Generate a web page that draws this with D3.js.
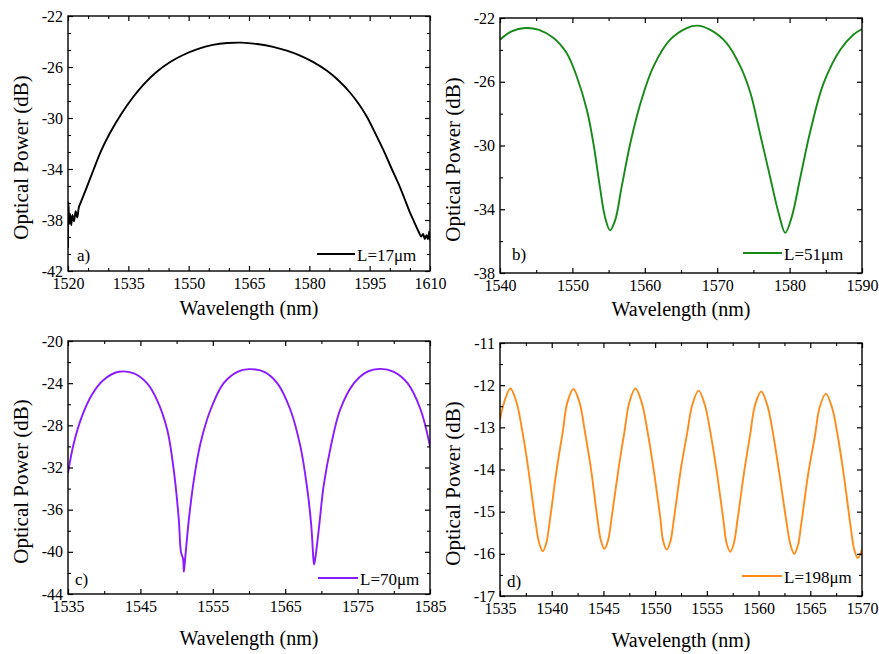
<!DOCTYPE html>
<html>
<head>
<meta charset="utf-8">
<script src="https://cdn.jsdelivr.net/npm/d3@7"></script>
<style>
  html, body { margin: 0; padding: 0; background: #fff; }
  svg { display: block; font-family: 'Liberation Serif', 'Times New Roman', serif; }
</style>
</head>
<body>
<svg id="chart" width="879" height="654"></svg>
<script>
// ---- data ----
// a) L=17um
const wlA = [1520.0, 1520.1, 1520.3, 1520.5, 1520.8, 1521.1, 1521.5, 1521.9, 1522.3, 1522.7, 1523.2,
  1524.7, 1526.3, 1528.2, 1530.4, 1533.2, 1536.2, 1539.0, 1542.0, 1545.2, 1548.6, 1552.2, 1556.0,
  1559.6, 1563.2, 1567.0, 1571.0, 1574.4, 1577.7, 1581.0, 1584.4, 1587.4, 1590.1,
  1592.3, 1594.3, 1596.4, 1598.4, 1600.5, 1602.5, 1604.0, 1605.0, 1606.0, 1606.7, 1607.3,
  1607.8, 1608.3, 1608.7, 1609.1, 1609.5, 1609.8, 1610.0];
const pwA = [-40.2, -36.6, -38.3, -37.5, -38.4, -37.6, -38.1, -37.3, -37.8, -37.0, -36.6,
  -35.4, -34.1, -32.6, -31.2, -29.7, -28.35, -27.3, -26.4, -25.65, -25.06, -24.6, -24.27,
  -24.12, -24.09, -24.2, -24.42, -24.72, -25.1, -25.62, -26.3, -27.1, -28.0,
  -28.9, -29.9, -31.2, -32.5, -34.0, -35.4, -36.6, -37.4, -38.1, -38.6, -39.0,
  -39.3, -39.1, -39.5, -39.2, -39.5, -38.9, -39.6];

// b) L=51um
const wlB = [1540.0, 1541.6, 1543.5, 1545.3, 1547.4, 1549.2, 1550.6, 1552.0, 1552.9, 1553.8, 1554.5,
  1555.2, 1555.9, 1556.8, 1558.0, 1559.4, 1561.2, 1563.5, 1565.8, 1567.2, 1569.0, 1571.3,
  1573.2, 1574.6, 1575.9, 1577.3, 1578.5, 1579.4, 1580.3, 1581.5, 1582.9, 1584.7, 1587.0, 1588.8, 1590.0];
const pwB = [-23.36, -22.84, -22.63, -22.73, -23.26, -24.2, -25.67, -27.77, -29.86, -32.6, -34.48,
  -35.32, -34.7, -32.6, -29.86, -27.35, -25.04, -23.36, -22.63, -22.48, -22.73, -23.57,
  -25.04, -26.72, -29.23, -31.96, -34.27, -35.48, -34.48, -31.96, -29.03, -26.09, -23.99, -23.05, -22.69];

// c) L=70um
const wlC = [1535.0, 1535.8, 1536.9, 1538.3, 1539.9, 1542.0, 1544.1, 1545.9, 1547.3, 1548.7, 1549.6,
  1550.3, 1550.6, 1550.9, 1551.0, 1551.2, 1551.7, 1552.4, 1553.3, 1554.7, 1556.5, 1558.4,
  1560.0, 1562.1, 1563.9, 1565.7, 1567.1, 1568.0, 1568.6, 1568.9, 1569.0, 1569.2, 1569.7,
  1570.3, 1571.3, 1572.6, 1574.5, 1576.3, 1578.2, 1580.0, 1581.9, 1583.7, 1585.0];
const pwC = [-32.5, -29.7, -27.2, -25.1, -23.7, -22.92, -23.08, -24.0, -25.6, -28.4, -32.2,
  -36.9, -40.0, -40.7, -41.9, -40.5, -36.9, -33.1, -29.7, -26.5, -24.0, -22.92,
  -22.67, -22.92, -24.0, -26.5, -30.0, -33.8, -37.5, -40.7, -41.2, -40.4, -37.5,
  -33.8, -30.0, -26.5, -24.0, -22.92, -22.64, -22.92, -24.0, -26.5, -30.0];

// d) L=198um
const wlD = [1535.0, 1535.4, 1536.0, 1536.6, 1537.15, 1537.75, 1538.4, 1538.78, 1539.13, 1539.48, 1539.83, 1540.48, 1541.08, 1541.5,
  1542.1, 1542.7, 1543.2, 1543.8, 1544.4, 1544.75, 1545.1, 1545.45, 1545.8, 1546.45, 1547.05, 1547.5,
  1548.1, 1548.7, 1549.25, 1549.85, 1550.5, 1550.78, 1551.13, 1551.48, 1551.83, 1552.48, 1553.1, 1553.6,
  1554.2, 1554.8, 1555.35, 1555.95, 1556.6, 1556.91, 1557.26, 1557.61, 1557.96, 1558.61, 1559.2, 1559.65,
  1560.25, 1560.85, 1561.4, 1562.0, 1562.7, 1563.1, 1563.45, 1563.8, 1564.15, 1564.8, 1565.45, 1565.9,
  1566.5, 1567.1, 1567.65, 1568.25, 1568.9, 1569.25, 1569.6, 1570.0];
const pwD = [-12.81, -12.41, -12.08, -12.41, -13.08, -14.01, -15.19, -15.74, -15.94, -15.74, -15.19, -14.0, -13.09, -12.42,
  -12.09, -12.42, -13.09, -13.99, -15.13, -15.68, -15.88, -15.68, -15.13, -14.0, -13.08, -12.41,
  -12.08, -12.41, -13.08, -13.99, -15.15, -15.7, -15.9, -15.7, -15.15, -14.0, -13.13, -12.46,
  -12.13, -12.46, -13.13, -14.04, -15.2, -15.75, -15.95, -15.75, -15.2, -14.05, -13.15, -12.48,
  -12.15, -12.48, -13.15, -14.08, -15.25, -15.8, -16.0, -15.8, -15.25, -14.1, -13.2, -12.53,
  -12.2, -12.53, -13.2, -14.15, -15.35, -15.9, -16.1, -15.9];

// tick values
const xTicksA = [1520, 1535, 1550, 1565, 1580, 1595, 1610];
const yTicksA = [-22, -26, -30, -34, -38, -42];
const xTicksB = [1540, 1550, 1560, 1570, 1580, 1590];
const yTicksB = [-22, -26, -30, -34, -38];
const xTicksC = [1535, 1545, 1555, 1565, 1575, 1585];
const yTicksC = [-20, -24, -28, -32, -36, -40, -44];
const xTicksD = [1535, 1540, 1545, 1550, 1555, 1560, 1565, 1570];
const yTicksD = [-11, -12, -13, -14, -15, -16, -17];

const legendLabels = ['L=17\u03bcm', 'L=51\u03bcm', 'L=70\u03bcm', 'L=198\u03bcm'];
const panelTags = ['a)', 'b)', 'c)', 'd)'];

const svg = d3.select('#chart');

function minorTicks(major, parts) {
  const out = [];
  for (let i = 0; i < major.length - 1; i++) {
    const step = (major[i + 1] - major[i]) / parts;
    for (let k = 1; k < parts; k++) out.push(major[i] + step * k);
  }
  return out;
}

function drawPanel(p) {
  const { x0, x1, y0, y1 } = p.frame;
  const x = d3.scaleLinear().domain(d3.extent(p.xTicks)).range([x0, x1]);
  const y = d3.scaleLinear().domain(d3.extent(p.yTicks)).range([y1, y0]);

  const xMinor = minorTicks(p.xTicks, p.xParts);
  const yMinor = minorTicks(p.yTicks, p.yParts);

  const g = svg.append('g');

  // data line
  const clipId = 'clip' + p.tag[0];
  g.append('clipPath').attr('id', clipId)
    .append('rect').attr('x', x0).attr('y', y0 - 2).attr('width', x1 - x0).attr('height', y1 - y0 + 4);
  const pts = p.wl.map((w, i) => [w, p.pw[i]]);
  g.append('path')
    .datum(pts)
    .attr('clip-path', `url(#${clipId})`)
    .attr('fill', 'none')
    .attr('stroke', p.color)
    .attr('stroke-width', 1.9)
    .attr('stroke-linejoin', 'round')
    .attr('d', d3.line().x(d => x(d[0])).y(d => y(d[1])).curve(d3.curveCatmullRom.alpha(0.5)));

  // axes, ticks pointing in
  const axes = [
    [d3.axisBottom, x, y1, 'x', true],
    [d3.axisTop, x, y0, 'x', false],
    [d3.axisLeft, y, x0, 'y', true],
    [d3.axisRight, y, x1, 'y', false]
  ];
  for (const [fn, sc, pos, dir, labels] of axes) {
    const tr = dir === 'x' ? `translate(0,${pos})` : `translate(${pos},0)`;
    const major = dir === 'x' ? p.xTicks : p.yTicks;
    const minor = dir === 'x' ? xMinor : yMinor;
    const ax = g.append('g').attr('transform', tr)
      .call(fn(sc).tickValues(major).tickSize(-5)
        .tickPadding(dir === 'x' ? 7 : 5)
        .tickFormat(labels ? d => String(d) : ''));
    ax.select('.domain').remove();
    ax.selectAll('.tick line').attr('stroke-width', 1.2);
    ax.selectAll('text')
      .attr('font-size', 16)
      .attr('fill', '#000')
      .attr('font-family', "'Liberation Serif', serif");
    const mx = g.append('g').attr('transform', tr)
      .call(fn(sc).tickValues(minor).tickSize(-3).tickFormat(''));
    mx.select('.domain').remove();
    mx.selectAll('.tick line').attr('stroke-width', 1.1);
  }

  // frame
  g.append('rect')
    .attr('x', x0).attr('y', y0).attr('width', x1 - x0).attr('height', y1 - y0)
    .attr('fill', 'none').attr('stroke', '#000').attr('stroke-width', 1.4);

  // axis titles
  g.append('text')
    .attr('x', (x0 + x1) / 2).attr('y', p.xTitleY)
    .attr('text-anchor', 'middle').attr('font-size', 20)
    .text('Wavelength (nm)');
  g.append('text')
    .attr('transform', `translate(${x0 - 47},${(y0 + y1) / 2 + 14}) rotate(-90)`)
    .attr('text-anchor', 'middle').attr('dy', '0.35em').attr('font-size', 21)
    .text('Optical Power (dB)');

  // panel tag
  g.append('text')
    .attr('x', x0 + p.tagDx).attr('y', y1 - p.tagDy)
    .attr('font-size', 17).text(p.tag);

  // legend
  g.append('line')
    .attr('x1', p.legend[0]).attr('x2', p.legend[1])
    .attr('y1', p.legend[2]).attr('y2', p.legend[2])
    .attr('stroke', p.color).attr('stroke-width', 1.9);
  g.append('text')
    .attr('x', p.legend[1] + 2).attr('y', p.legend[2] + 7)
    .attr('font-size', 17).text(p.label);
}

const panels = [
  { frame: { x0: 68, x1: 430, y0: 16, y1: 271 }, wl: wlA, pw: pwA, xTicks: xTicksA, yTicks: yTicksA,
    xParts: 3, yParts: 3, color: '#000000', xTitleY: 315, tagDx: 9, tagDy: 10, legend: [317, 355, 254] },
  { frame: { x0: 500, x1: 862, y0: 18, y1: 273 }, wl: wlB, pw: pwB, xTicks: xTicksB, yTicks: yTicksB,
    xParts: 2, yParts: 2, color: '#168a16', xTitleY: 316, tagDx: 12, tagDy: 13, legend: [743, 782, 253] },
  { frame: { x0: 68, x1: 430, y0: 341, y1: 594 }, wl: wlC, pw: pwC, xTicks: xTicksC, yTicks: yTicksC,
    xParts: 2, yParts: 2, color: '#8a1aff', xTitleY: 645, tagDx: 7, tagDy: 9, legend: [318, 358, 578] },
  { frame: { x0: 500, x1: 862, y0: 343, y1: 596 }, wl: wlD, pw: pwD, xTicks: xTicksD, yTicks: yTicksD,
    xParts: 2, yParts: 2, color: '#ff8c1a', xTitleY: 647, tagDx: 7, tagDy: 9, legend: [742, 782, 576] }
];
panels.forEach((p, i) => drawPanel({ ...p, tag: panelTags[i], label: legendLabels[i] }));
</script>
</body>
</html>
